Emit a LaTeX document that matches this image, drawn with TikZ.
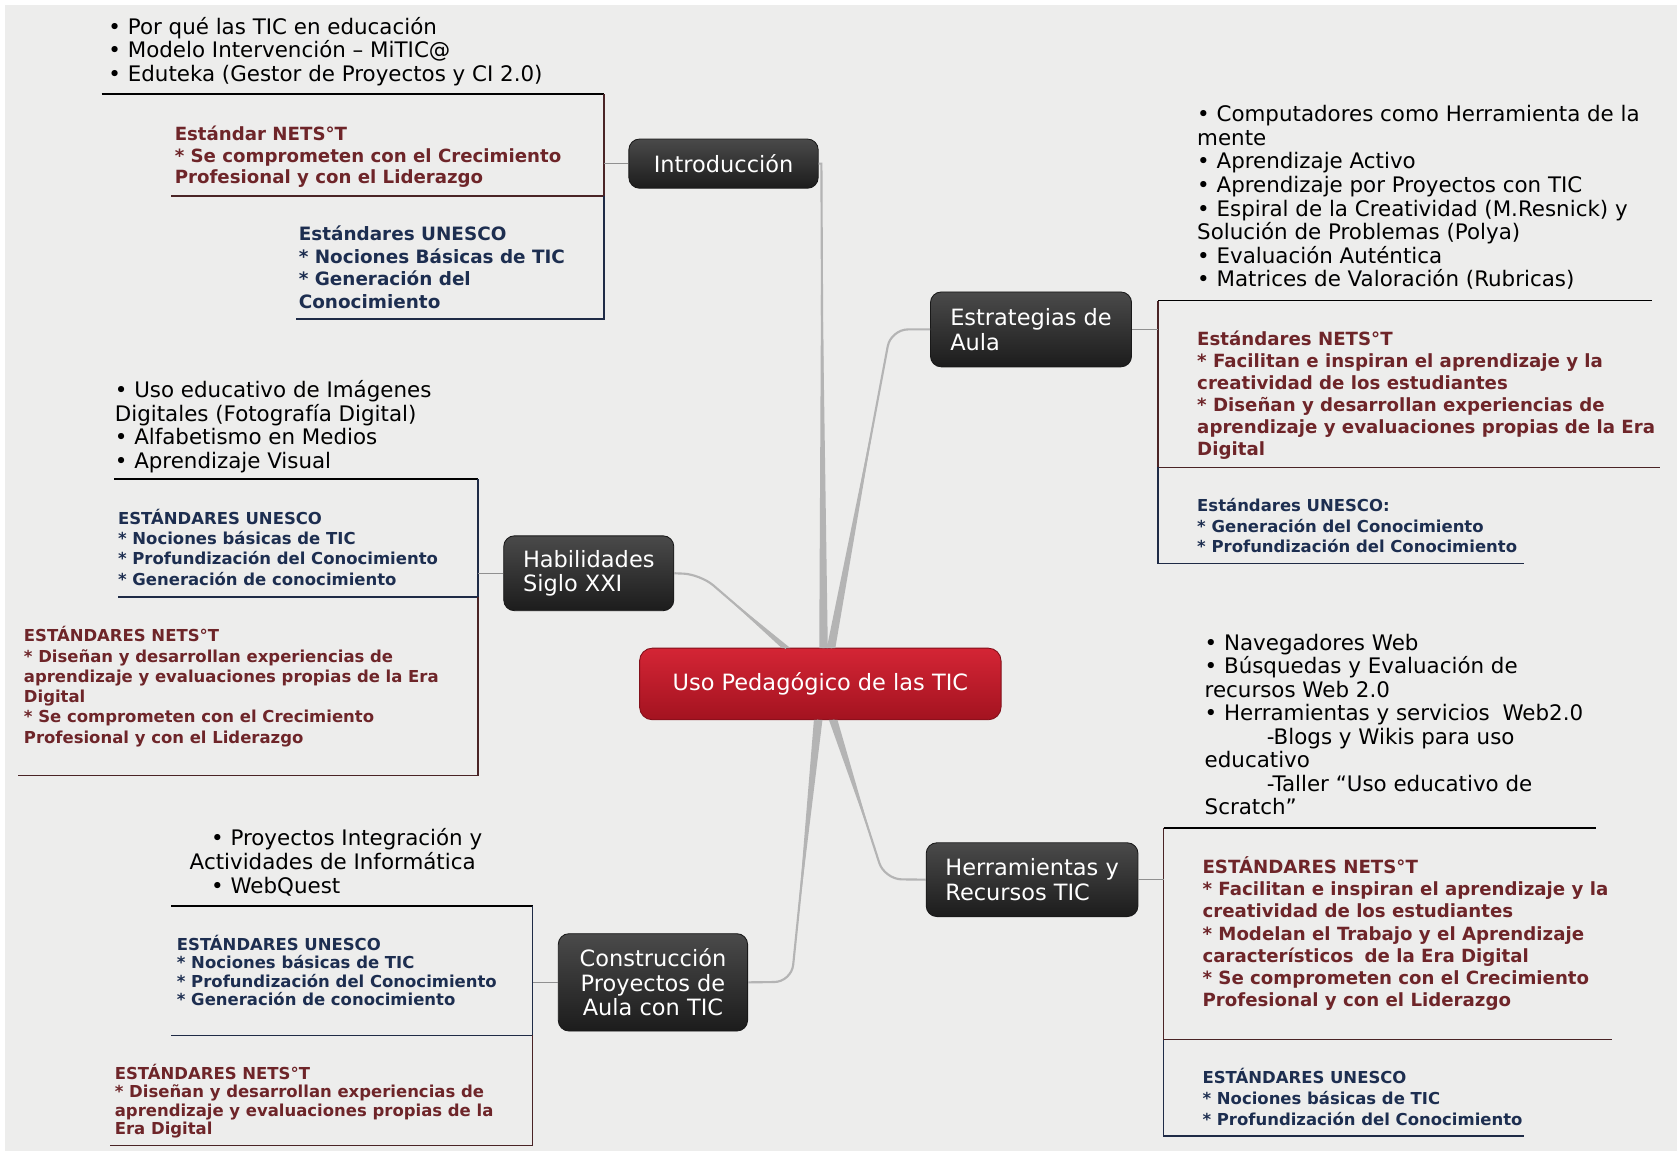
\documentclass[tikz,border=0pt]{standalone}
\usepackage{fontspec}
\setmainfont{DejaVu Sans}
\usetikzlibrary{calc,positioning}
\definecolor{panel}{HTML}{EDEDEC}
\definecolor{branchgray}{HTML}{B4B4B4}
\definecolor{netsred}{HTML}{6E2529}
\definecolor{unescoblue}{HTML}{1D2E50}
\definecolor{netsline}{HTML}{4A2426}
\definecolor{unescoline}{HTML}{1F2B46}
\definecolor{topictop}{HTML}{4A4A4A}
\definecolor{topicbot}{HTML}{1C1C1C}
\definecolor{roottop}{HTML}{D42535}
\definecolor{rootbot}{HTML}{A31320}

\begin{document}
\begin{tikzpicture}
  [x=0.5pt,y=-0.5pt,
   topic/.style={draw=black!90,rounded corners=5pt,top color=topictop,bottom color=topicbot,
     text=white,inner sep=0pt,align=left,font=\fontsize{10.5}{11.5}\selectfont},
   centraltopic/.style={draw=rootbot!80!black,rounded corners=6pt,top color=roottop,bottom color=rootbot,
     text=white,inner sep=0pt,font=\fontsize{10.5}{12}\selectfont},
   txt/.style={anchor=base west,inner sep=0pt,align=left},
   bullets/.style={txt,font=\fontsize{10}{11}\selectfont},
   nets/.style n args={2}{txt,text=netsred,font=\bfseries\fontsize{#1}{#2}\selectfont},
   unesco/.style n args={2}{txt,text=unescoblue,font=\bfseries\fontsize{#1}{#2}\selectfont},
   frameline/.style={line width=0.75pt},
   stub/.style={draw=branchgray!80!black,line width=0.6pt},
   branch/.style={draw=branchgray,line width=1pt,rounded corners=8pt}]

  \fill[white] (0,0) rectangle (1568,1081);
  \fill[panel] (5,5) rectangle (1568,1076);
  \useasboundingbox (0,0) rectangle (1568,1081);

  \node[centraltopic,minimum width=169pt,minimum height=33.5pt] (uso) at (767,639.5) {Uso Pedagógico de las TIC};
  \node[topic,minimum width=88.5pt,minimum height=23pt] (intro) at (676.5,153) {Introducción};
  \node[topic,minimum width=94pt,minimum height=35pt] (estr) at (964,308) {Estrategias de\\Aula};
  \node[topic,minimum width=79.5pt,minimum height=35pt] (habil) at (550.5,536) {Habilidades\\Siglo XXI};
  \node[topic,minimum width=99pt,minimum height=34.5pt] (herr) at (965,822.5) {Herramientas y\\Recursos TIC};
  \node[topic,align=center,minimum width=88.5pt,minimum height=45.5pt] (constr) at (610.5,918.5) {Construcción\\Proyectos de\\Aula con TIC};

  \node[bullets] (introlist) at (101,76) {• Por qué las TIC en educación\\• Modelo Intervención – MiTIC@\\• Eduteka (Gestor de Proyectos y CI 2.0)};
  \node[nets={8.5}{10.25}] (intronets) at (163,172) {Estándar NETS°T\\* Se comprometen con el Crecimiento\\Profesional y con el Liderazgo};
  \node[unesco={8.6}{10.5}] (introunesco) at (279,288) {Estándares UNESCO\\* Nociones Básicas de TIC\\* Generación del\\Conocimiento};

  \node[bullets] (estrlist) at (1119,268) {• Computadores como Herramienta de la\\mente\\• Aprendizaje Activo\\• Aprendizaje por Proyectos con TIC\\• Espiral de la Creatividad (M.Resnick) y\\Solución de Problemas (Polya)\\• Evaluación Auténtica\\• Matrices de Valoración (Rubricas)};
  \node[nets={8.5}{10.3}] (estrnets) at (1119,426) {Estándares NETS°T\\* Facilitan e inspiran el aprendizaje y la\\creatividad de los estudiantes\\* Diseñan y desarrollan experiencias de\\aprendizaje y evaluaciones propias de la Era\\Digital};
  \node[unesco={7.7}{9.75}] (estrunesco) at (1119,517) {Estándares UNESCO:\\* Generación del Conocimiento\\* Profundización del Conocimiento};

  \node[bullets] (habillist) at (107,438) {• Uso educativo de Imágenes\\Digitales (Fotografía Digital)\\• Alfabetismo en Medios\\• Aprendizaje Visual};
  \node[unesco={7.7}{9.5}] (habilunesco) at (110,547) {ESTÁNDARES UNESCO\\* Nociones básicas de TIC\\* Profundización del Conocimiento\\* Generación de conocimiento};
  \node[nets={7.7}{9.5}] (habilnets) at (22,695) {ESTÁNDARES NETS°T\\* Diseñan y desarrollan experiencias de\\aprendizaje y evaluaciones propias de la Era\\Digital\\* Se comprometen con el Crecimiento\\Profesional y con el Liderazgo};

  \node[bullets] (herrlist) at (1126,762) {• Navegadores Web\\• Búsquedas y Evaluación de\\recursos Web 2.0\\• Herramientas y servicios\hspace{0.6em}Web2.0\\\hspace*{29pt}-Blogs y Wikis para uso\\educativo\\\hspace*{29pt}-Taller “Uso educativo de\\Scratch”};
  \node[nets={8.5}{10.35}] (herrnets) at (1124,941) {ESTÁNDARES NETS°T\\* Facilitan e inspiran el aprendizaje y la\\creatividad de los estudiantes\\* Modelan el Trabajo y el Aprendizaje\\característicos\hspace{0.6em}de la Era Digital\\* Se comprometen con el Crecimiento\\Profesional y con el Liderazgo};
  \node[unesco={7.7}{9.75}] (herrunesco) at (1124,1052) {ESTÁNDARES UNESCO\\* Nociones básicas de TIC\\* Profundización del Conocimiento};

  \node[bullets] (constrlist) at (177,835) {\hspace*{10pt}• Proyectos Integración y\\Actividades de Informática\\\hspace*{10pt}• WebQuest};
  \node[unesco={7.7}{8.5}] (construnesco) at (165,940) {ESTÁNDARES UNESCO\\* Nociones básicas de TIC\\* Profundización del Conocimiento\\* Generación de conocimiento};
  \node[nets={7.7}{8.65}] (constrnets) at (107,1061) {ESTÁNDARES NETS°T\\* Diseñan y desarrollan experiencias de\\aprendizaje y evaluaciones propias de la\\Era Digital};

  \coordinate (introbar) at (565,88);
  \coordinate (estrbar) at (1083,281);
  \coordinate (habilbar) at (447,448);
  \coordinate (herrbar) at (1088,774);
  \coordinate (constrbar) at (498,847);

  \draw[frameline] (95,88) -- (introbar);
  \draw[frameline,netsline] (introbar) -- (565,183) -- (160,183);
  \draw[frameline,unescoline] (565,183) -- (565,298) -- (277,298);

  \draw[frameline] (estrbar) -- (1545,281);
  \draw[frameline,netsline] (estrbar) -- (1083,437) -- (1552,437);
  \draw[frameline,unescoline] (1083,437) -- (1083,527) -- (1425,527);

  \draw[frameline] (107,448) -- (habilbar);
  \draw[frameline,unescoline] (habilbar) -- (447,558) -- (110,558);
  \draw[frameline,netsline] (447,558) -- (447,725) -- (17,725);

  \draw[frameline] (herrbar) -- (1492,774);
  \draw[frameline,netsline] (herrbar) -- (1088,972) -- (1507,972);
  \draw[frameline,unescoline] (1088,972) -- (1088,1062) -- (1425,1062);

  \draw[frameline] (160,847) -- (constrbar);
  \draw[frameline,unescoline] (constrbar) -- (498,968) -- (160,968);
  \draw[frameline,netsline] (498,968) -- (498,1071) -- (103,1071);

  \foreach \n in {intro,habil,constr}
    \draw[stub] (\n.west) -- (\n.west -| \n bar);
  \foreach \n in {estr,herr}
    \draw[stub] (\n.east) -- (\n.east -| \n bar);

  \fill[branchgray] (766,606) -- (774,606) -- (768,200) -- cycle;
  \draw[branchgray,line width=1pt] (770,606) -- (768,153) -- (intro.east);
  \foreach \sx/\sy/\cx/\cy/\tgt in {777/606/833/308/estr.west,735/606/655/537/habil.east,779/673/827/822/herr.west,765/673/740/918/constr.east}{
    \fill[branchgray] (\sx-4,\sy) -- (\sx+4,\sy) -- ($(\sx,\sy)!0.8!(\cx,\cy)$) -- cycle;
    \draw[branch] (\sx,\sy) -- (\cx,\cy) -- (\tgt);
  }
\end{tikzpicture}
\end{document}
